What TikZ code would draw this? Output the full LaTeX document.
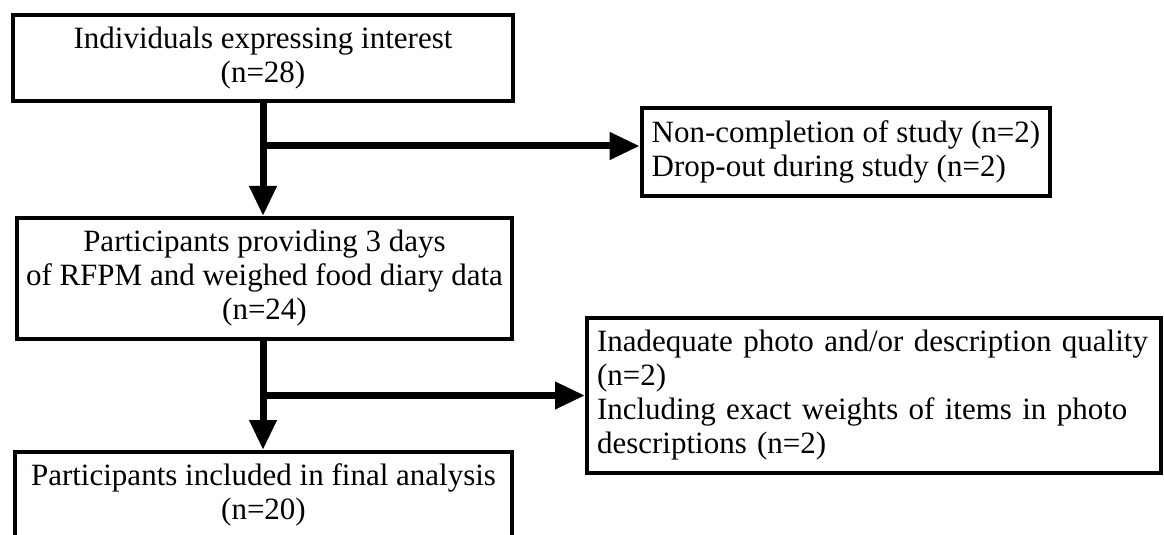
\documentclass[tikz,border=0pt]{standalone}
\usepackage{fontspec}
\setmainfont{Liberation Serif}
\usetikzlibrary{arrows.meta, positioning, calc}

\begin{document}
\begin{tikzpicture}[x=0.5pt, y=-0.5pt,
  box/.style={draw, line width=2pt, align=center, inner sep=0pt,
    font=\fontsize{15.5}{17}\selectfont},
  sidebox/.style={draw, line width=2pt, align=left, inner xsep=5pt, inner ysep=0pt,
    font=\fontsize{15.5}{17}\selectfont},
  flow/.style={line width=3.5pt, -{Triangle[length=15pt, width=13pt]}}]
\useasboundingbox (0,0) rectangle (1164,535);

% main column
\node[box, minimum width=250pt, minimum height=43pt] (interest) at (263,58)
  {Individuals expressing interest\\(n=28)};
\node[box, minimum width=247.5pt, minimum height=60.5pt] (providing) at (264.5,278.5)
  {Participants providing 3 days\\of RFPM and weighed food diary data\\(n=24)};
\node[box, minimum width=248.5pt, minimum height=43pt] (final) at (263.5,495)
  {Participants included in final analysis\\(n=20)};

% exclusions
\node[sidebox, minimum width=201pt, minimum height=44pt] (dropped) at (846,152)
  {Non-completion of study (n=2)\\Drop-out during study (n=2)};
\node[sidebox, text width=277pt, minimum height=77.5pt] (removed) at (874,395.5)
  {Inadequate photo and/or description quality\\(n=2)\\Including exact weights of items in photo\\descriptions (n=2)};
\coordinate (droppedin) at ([yshift=3pt]dropped.west);

% arrows
\draw[flow] (interest.south) -- (interest.south |- providing.north);
\draw[flow] (interest.south |- droppedin) -- (droppedin);
\draw[flow] (interest.south |- providing.south) -- (interest.south |- final.north);
\draw[flow] (interest.south |- removed.west) -- (removed.west);
\end{tikzpicture}
\end{document}
